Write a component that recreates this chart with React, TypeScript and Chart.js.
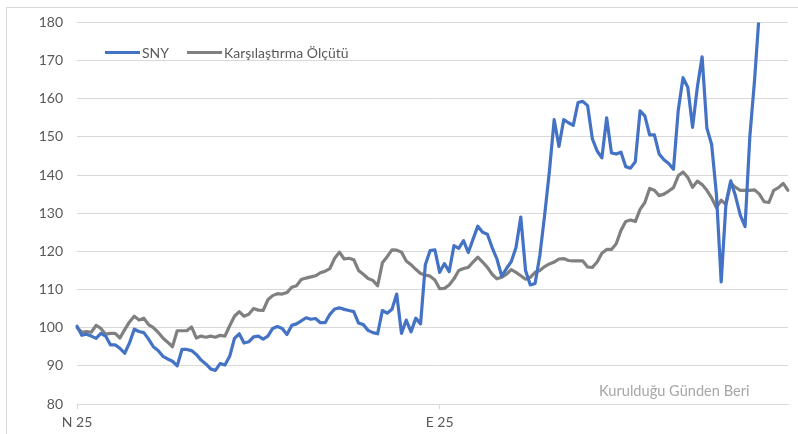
import React, { useEffect, useRef } from 'react';
import { Chart, registerables } from 'chart.js';

Chart.register(...registerables);

// Series values (index-based trading days)
const SNY: (number | null)[] = [
  100.4, 98, 98.3, 97.8, 97.2, 98.5, 97.8, 95.5, 95.5, 94.6,
  93.3, 96, 99.6, 99, 98.7, 97, 95, 94, 92.5, 91.8,
  91.2, 90, 94.3, 94.3, 94, 93, 91.5, 90.5, 89.2, 88.8,
  90.6, 90.2, 92.5, 97.2, 98.4, 96, 96.3, 97.6, 97.8, 97,
  97.8, 99.8, 100.3, 99.8, 98.2, 100.6, 101, 101.8, 102.6, 102.2,
  102.4, 101.3, 101.3, 103.5, 104.9, 105.2, 104.8, 104.5, 104.2, 101.2,
  100.8, 99.3, 98.7, 98.4, 104.5, 103.8, 104.8, 108.8, 98.5, 102,
  98.9, 102.5, 101, 116.5, 120.2, 120.4, 114.5, 116.8, 114.7, 121.5,
  120.8, 122.8, 119.7, 123.2, 126.6, 125, 124.5, 121, 118, 113.5,
  115.5, 117.3, 121, 129, 115, 111.2, 111.6, 119, 129.5, 141,
  154.5, 147.5, 154.5, 153.7, 153, 159, 159.3, 158.2, 149.5, 146.3,
  144.5, 155, 145.8, 145.5, 146, 142.2, 141.8, 143.5, 156.8, 155.5,
  150.5, 150.5, 145.5, 144, 143, 141.5, 157, 165.5, 163, 152.5,
  163, 171, 152.3, 148, 135, 112, 132.6, 138.5, 134.5, 129.5,
  126.5, 150, 165, 183, null, null, null, null, null, null,
];

const BENCHMARK: number[] = [
  100, 98.8, 99, 98.8, 100.6, 99.8, 98.3, 98.5, 98.5, 97.3,
  99.5, 101.5, 103, 102, 102.5, 100.8, 100, 98.8, 97.3, 96.2,
  95, 99.2, 99.2, 99.2, 100.2, 97.3, 97.8, 97.5, 97.8, 97.5,
  98, 97.8, 100.5, 103, 104.2, 103, 103.5, 105, 104.6, 104.5,
  107.3, 108.4, 108.9, 108.8, 109.2, 110.6, 111, 112.6, 113, 113.3,
  113.6, 114.4, 114.8, 115.5, 118.2, 119.8, 118, 118.2, 117.8, 115,
  114, 112.9, 112.4, 111, 117, 118.6, 120.4, 120.3, 119.8, 117.5,
  116.5, 115.3, 114.2, 113.8, 113.5, 112.5, 110.2, 110.3, 111.2, 112.8,
  115, 115.5, 115.8, 117.2, 118.5, 117.2, 115.8, 114, 112.8, 113.2,
  114, 115.2, 114.5, 113.6, 112.7, 113.2, 114.5, 115, 116, 116.7,
  117.2, 118, 118.1, 117.6, 117.5, 117.5, 117.5, 115.9, 115.8, 117.2,
  119.5, 120.5, 120.5, 122, 125.5, 127.8, 128.2, 127.8, 131, 132.8,
  136.5, 136, 134.6, 135, 135.8, 136.7, 139.8, 140.8, 139.4, 136.8,
  138.4, 137.5, 136, 134, 131.5, 133.4, 132.3, 137.8, 136.8, 136,
  136, 136, 136.1, 135, 133, 132.8, 136, 136.7, 137.8, 136,
];

const CATEGORIES: string[] = BENCHMARK.map((_, i) => String(i));
const X_TICK_LABELS: Record<number, string> = { 0: 'N 25', 76: 'E 25' };
const Y_MIN = 80;
const Y_MAX = 180;
const Y_STEP = 10;
const SERIES_NAMES = ['SNY', 'Karşılaştırma Ölçütü'];
const SERIES_COLORS = ['#4472C4', '#808080'];
const NOTE = 'Kurulduğu Günden Beri';

const FONT = 'Lato, "Liberation Sans", sans-serif';

export default function App() {
  const ref = useRef<HTMLCanvasElement>(null);

  useEffect(() => {
    if (!ref.current) return;
    const chart = new Chart(ref.current, {
      type: 'line',
      data: {
        labels: CATEGORIES,
        datasets: [
          {
            label: SERIES_NAMES[0],
            data: SNY,
            borderColor: SERIES_COLORS[0],
            backgroundColor: SERIES_COLORS[0],
            borderWidth: 3.2,
            pointRadius: 0,
            tension: 0,
            borderJoinStyle: 'round',
            borderCapStyle: 'round',
          },
          {
            label: SERIES_NAMES[1],
            data: BENCHMARK,
            borderColor: SERIES_COLORS[1],
            backgroundColor: SERIES_COLORS[1],
            borderWidth: 3.2,
            pointRadius: 0,
            tension: 0,
            borderJoinStyle: 'round',
            borderCapStyle: 'round',
          },
        ],
      },
      options: {
        responsive: false,
        animation: false,
        layout: { padding: { left: 0, right: 10, top: 22, bottom: 0 } },
        plugins: {
          legend: { display: false },
          tooltip: { enabled: false },
        },
        scales: {
          x: {
            type: 'category',
            offset: false,
            grid: {
              display: true,
              drawOnChartArea: false,
              drawTicks: true,
              tickLength: 5,
              color: '#d9d9d9',
            },
            border: { display: true, color: '#d9d9d9' },
            ticks: {
              autoSkip: false,
              maxRotation: 0,
              minRotation: 0,
              padding: 5,
              color: '#595959',
              font: { family: FONT, size: 14 },
              callback: (_v: any, i: number) => (X_TICK_LABELS[i] !== undefined ? X_TICK_LABELS[i] : null),
            },
            afterFit: (s: any) => {
              s.height = 30;
            },
          },
          y: {
            min: Y_MIN,
            max: Y_MAX,
            ticks: {
              stepSize: Y_STEP,
              padding: 14,
              color: '#595959',
              font: { family: FONT, size: 14 },
            },
            grid: { color: '#d9d9d9', drawTicks: false, lineWidth: 1 },
            border: { display: false },
            afterFit: (s: any) => {
              s.width = 77;
            },
          },
        },
      },
    });
    return () => chart.destroy();
  }, []);

  return (
    <div
      style={{
        position: 'fixed',
        left: 0,
        top: 0,
        width: 798,
        height: 434,
        background: '#fff',
        overflow: 'hidden',
        fontFamily: FONT,
      }}
    >
      <div
        style={{
          position: 'absolute',
          left: 6,
          top: 7,
          width: 1000,
          height: 1000,
          border: '1px solid #d9d9d9',
        }}
      />
      <canvas
        ref={ref}
        width={798}
        height={434}
        style={{ position: 'absolute', left: 0, top: 0, width: 798, height: 434 }}
      />
      <div
        style={{
          position: 'absolute',
          left: 105,
          top: 44,
          height: 16,
          display: 'flex',
          alignItems: 'center',
          fontSize: 14,
          color: '#595959',
          whiteSpace: 'nowrap',
        }}
      >
        <span style={{ display: 'inline-block', width: 35, height: 3, background: SERIES_COLORS[0] }} />
        <span style={{ marginLeft: 2, marginRight: 18 }}>{SERIES_NAMES[0]}</span>
        <span style={{ display: 'inline-block', width: 35, height: 3, background: SERIES_COLORS[1] }} />
        <span style={{ marginLeft: 2 }}>{SERIES_NAMES[1]}</span>
      </div>
      <div
        style={{
          position: 'absolute',
          left: 599,
          top: 382,
          fontSize: 14.6,
          color: '#a6a6a6',
          whiteSpace: 'nowrap',
        }}
      >
        {NOTE}
      </div>
    </div>
  );
}
